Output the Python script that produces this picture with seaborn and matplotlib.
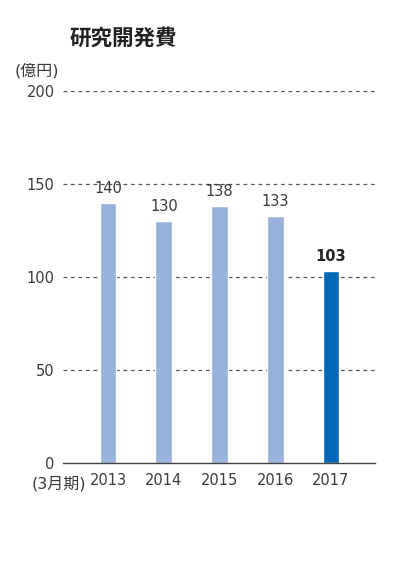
import matplotlib
matplotlib.use("Agg")
import matplotlib.pyplot as plt
import seaborn as sns
import pandas as pd

years = ["2013", "2014", "2015", "2016", "2017"]
rd_cost = [140, 130, 138, 133, 103]
bar_colors = ["#98b2dc", "#98b2dc", "#98b2dc", "#98b2dc", "#0068b7"]
y_ticks = [0, 50, 100, 150, 200]

sns.set_theme(style="white")
plt.rcParams["font.family"] = ["DejaVu Sans", "Noto Sans CJK JP"]

text_color = "#3a3a3a"
df = pd.DataFrame({"year": years, "cost": rd_cost})

fig = plt.figure(figsize=(4.14, 5.61), dpi=100)
ax = fig.add_axes([63 / 414, 1 - 463 / 561, (375 - 63) / 414, (463 - 91) / 561])

sns.barplot(data=df, x="year", y="cost", hue="year", palette=bar_colors,
            legend=False, width=0.3, ax=ax, saturation=1)

ax.set_ylim(0, 200)
ax.set_xlim(-0.81, 4.79)
ax.set_yticks(y_ticks)
ax.set_yticklabels([str(v) for v in y_ticks])
for v in y_ticks[1:]:
    ax.axhline(v, color="#555555", lw=0.9, ls=(0, (3, 3)), zorder=0)

for s in ["top", "right", "left"]:
    ax.spines[s].set_visible(False)
ax.spines["bottom"].set_color("#444444")
ax.spines["bottom"].set_linewidth(1.0)
ax.tick_params(axis="both", length=0, labelsize=10.5, colors=text_color)
ax.tick_params(axis="y", pad=6)
ax.tick_params(axis="x", pad=7)
ax.set_xlabel("")
ax.set_ylabel("")

for i, v in enumerate(rd_cost):
    last = i == len(rd_cost) - 1
    ax.annotate(str(v), (i, v), xytext=(0, 5), textcoords="offset points",
                ha="center", va="bottom", fontsize=10.5,
                color="#222222" if last else text_color,
                fontweight="bold" if last else "normal")

fig.text(70 / 414, 1 - 38 / 561, "研究開発費", fontsize=15.5, fontweight="bold",
         color="#222222", ha="left", va="center",
         family=["Noto Sans CJK JP", "DejaVu Sans"])
fig.text(15 / 414, 1 - 71 / 561, "(億円)", fontsize=11.5, color=text_color,
         ha="left", va="center")
fig.text(86 / 414, 1 - 484 / 561, "(3月期)", fontsize=11.5, color=text_color,
         ha="right", va="center")

fig.savefig("out.png", dpi=100)
